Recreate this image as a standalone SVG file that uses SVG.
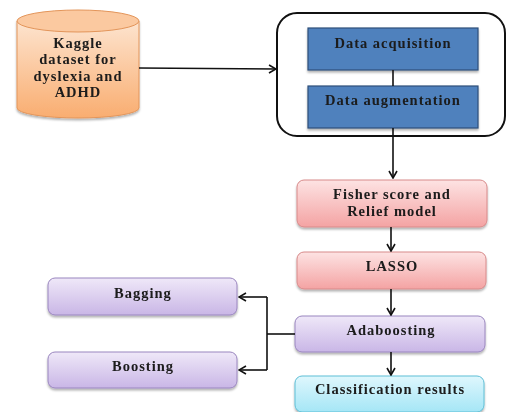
<svg xmlns="http://www.w3.org/2000/svg" width="506" height="412" viewBox="0 0 506 412">
<style>
text{font-family:"Liberation Serif","Times New Roman",serif;font-weight:bold;font-size:14.5px;fill:#1a1a1a;text-anchor:middle;letter-spacing:1px}
.pink{fill:url(#gPink);stroke:#d88a8a;stroke-width:1}
.purp{fill:url(#gPurp);stroke:#9a86bf;stroke-width:1}
.cyan{fill:url(#gCyan);stroke:#5fbfd6;stroke-width:1}
.blue{fill:#4f81bd;stroke:#2f4f7a;stroke-width:1.2}
.con{fill:none;stroke:#111;stroke-width:1.6}
</style>
<defs>
<linearGradient id="gPink" x1="0" y1="0" x2="0" y2="1"><stop offset="0" stop-color="#fde3e3"/><stop offset="1" stop-color="#f4a3a3"/></linearGradient>
<linearGradient id="gPurp" x1="0" y1="0" x2="0" y2="1"><stop offset="0" stop-color="#efe8f8"/><stop offset="1" stop-color="#c9b6e6"/></linearGradient>
<linearGradient id="gCyan" x1="0" y1="0" x2="0" y2="1"><stop offset="0" stop-color="#dff7fd"/><stop offset="1" stop-color="#a5e6f6"/></linearGradient>
<linearGradient id="gOrange" x1="0" y1="0" x2="0" y2="1"><stop offset="0" stop-color="#fde4cf"/><stop offset="1" stop-color="#f9ad70"/></linearGradient>
<filter id="sh" x="-10%" y="-10%" width="130%" height="140%"><feDropShadow dx="0" dy="2" stdDeviation="1" flood-color="#000" flood-opacity="0.3"/></filter>
<marker id="ah" viewBox="0 0 10 10" refX="9" refY="5" markerWidth="10" markerHeight="10" markerUnits="userSpaceOnUse" orient="auto"><polyline points="2,1 9,5 2,9" fill="none" stroke="#111" stroke-width="1.6"/></marker>
</defs>

<g id="kaggle" filter="url(#sh)">
<path d="M17,21 L17,108 A61,10 0 0 0 139,108 L139,21" fill="url(#gOrange)" stroke="#e3955a" stroke-width="1"/>
<ellipse cx="78" cy="21" rx="61" ry="11" fill="#fbc9a0" stroke="#e3955a" stroke-width="1"/>
<text x="78" y="48">Kaggle</text>
<text x="78" y="64">dataset for</text>
<text x="78" y="81">dyslexia and</text>
<text x="78" y="97">ADHD</text>
</g>

<g id="dataGroup">
<rect x="277" y="13" width="228" height="123" rx="20" fill="#fff" stroke="#111" stroke-width="2"/>
</g>
<g id="acq" filter="url(#sh)">
<rect class="blue" x="308" y="28" width="170" height="42"/>
<text x="393" y="48">Data acquisition</text>
</g>
<g id="aug" filter="url(#sh)">
<rect class="blue" x="308" y="86" width="170" height="42"/>
<text x="393" y="105">Data augmentation</text>
</g>

<g id="fisher" filter="url(#sh)">
<rect class="pink" x="297" y="180" width="190" height="47" rx="7"/>
<text x="392" y="199">Fisher score and</text>
<text x="392" y="216">Relief model</text>
</g>
<g id="lasso" filter="url(#sh)">
<rect class="pink" x="297" y="252" width="189" height="37" rx="7"/>
<text x="392" y="271">LASSO</text>
</g>
<g id="ada" filter="url(#sh)">
<rect class="purp" x="295" y="316" width="190" height="36" rx="7"/>
<text x="391" y="335">Adaboosting</text>
</g>
<g id="class" filter="url(#sh)">
<rect class="cyan" x="295" y="376" width="189" height="36" rx="7"/>
<text x="390" y="394">Classification results</text>
</g>
<g id="bagging" filter="url(#sh)">
<rect class="purp" x="48" y="278" width="189" height="37" rx="7"/>
<text x="143" y="298">Bagging</text>
</g>
<g id="boosting" filter="url(#sh)">
<rect class="purp" x="48" y="352" width="189" height="36" rx="7"/>
<text x="143" y="371">Boosting</text>
</g>

<g id="connectors">
<line class="con" x1="139" y1="68" x2="276" y2="69" marker-end="url(#ah)"/>
<line class="con" x1="393" y1="70" x2="393" y2="86"/>
<line class="con" x1="393" y1="128" x2="393" y2="178" marker-end="url(#ah)"/>
<line class="con" x1="391" y1="227" x2="391" y2="251" marker-end="url(#ah)"/>
<line class="con" x1="391" y1="289" x2="391" y2="315" marker-end="url(#ah)"/>
<line class="con" x1="391" y1="352" x2="391" y2="375" marker-end="url(#ah)"/>
<line class="con" x1="295" y1="334" x2="267" y2="334"/>
<polyline class="con" points="267,297 267,370"/>
<line class="con" x1="267" y1="297" x2="239" y2="297" marker-end="url(#ah)"/>
<line class="con" x1="267" y1="370" x2="239" y2="370" marker-end="url(#ah)"/>
</g>
</svg>
